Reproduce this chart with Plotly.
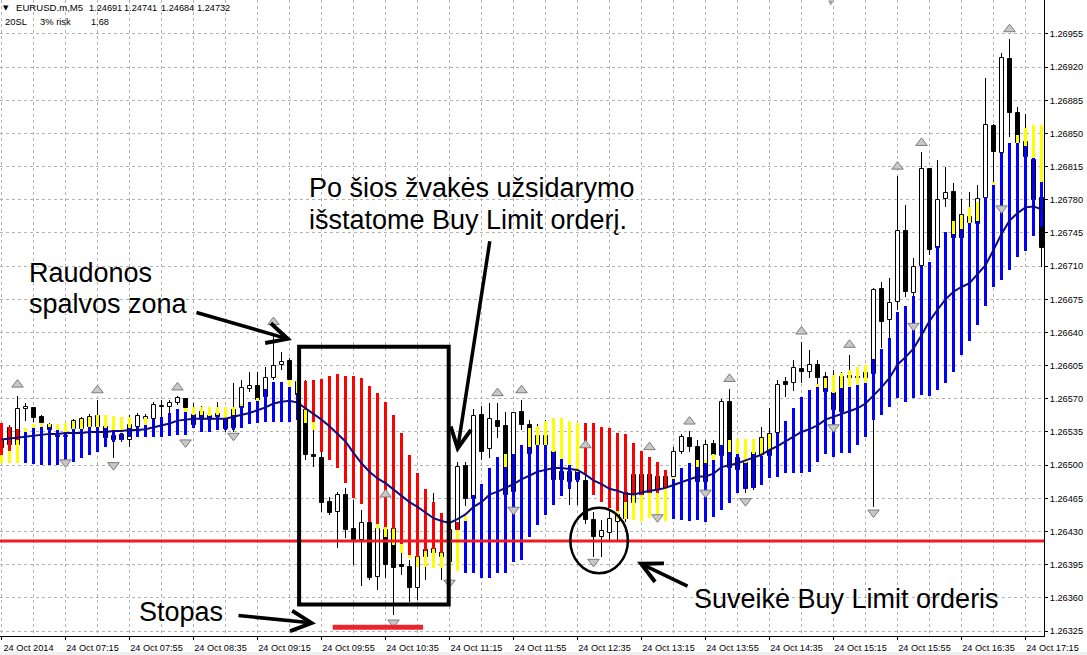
import plotly.graph_objects as go

# ---------------- data (EURUSD M5, 24 Oct 2014) ----------------
X_TICK_LABELS = ["24 Oct 2014", "24 Oct 07:15", "24 Oct 07:55", "24 Oct 08:35", "24 Oct 09:15",
                 "24 Oct 09:55", "24 Oct 10:35", "24 Oct 11:15", "24 Oct 11:55", "24 Oct 12:35",
                 "24 Oct 13:15", "24 Oct 13:55", "24 Oct 14:35", "24 Oct 15:15", "24 Oct 15:55",
                 "24 Oct 16:35", "24 Oct 17:15"]
X_TICK_BARS = [0, 8, 16, 24, 32, 40, 48, 56, 64, 72, 80, 88, 96, 104, 112, 120, 128]

Y_TICKS = [1.26325, 1.26360, 1.26395, 1.26430, 1.26465, 1.26500, 1.26535, 1.26570, 1.26605,
           1.26640, 1.26675, 1.26710, 1.26745, 1.26780, 1.26815, 1.26850, 1.26885, 1.26920, 1.26955]

OPEN = [1.26527, 1.26539, 1.26521, 1.26559, 1.26560, 1.26551, 1.26542, 1.26531, 1.26530, 1.26538,
        1.26538, 1.26540, 1.26540, 1.26540, 1.26531, 1.26532, 1.26527, 1.26540, 1.26549, 1.26549,
        1.26561, 1.26561, 1.26566, 1.26570, 1.26553, 1.26556, 1.26552, 1.26554, 1.26549, 1.26558,
        1.26560, 1.26580, 1.26584, 1.26572, 1.26592, 1.26606, 1.26610, 1.26588, 1.26558, 1.26510,
        1.26508, 1.26461, 1.26451, 1.26469, 1.26433, 1.26421, 1.26439, 1.26382, 1.26432, 1.26433,
        1.26394, 1.26393, 1.26370, 1.26410, 1.26412, 1.26407, 1.26432, 1.26432, 1.26499, 1.26464,
        1.26553, 1.26517, 1.26547, 1.26541, 1.26472, 1.26556, 1.26542, 1.26531, 1.26531, 1.26514,
        1.26493, 1.26493, 1.26493, 1.26483, 1.26442, 1.26424, 1.26428, 1.26440, 1.26471, 1.26490,
        1.26490, 1.26490, 1.26488, 1.26488, 1.26488, 1.26514, 1.26529, 1.26519, 1.26482, 1.26522,
        1.26510, 1.26567, 1.26508, 1.26502, 1.26513, 1.26529, 1.26510, 1.26534, 1.26588, 1.26587,
        1.26601, 1.26598, 1.26606, 1.26593, 1.26576, 1.26593, 1.26594, 1.26593, 1.26597, 1.26596,
        1.26686, 1.26653, 1.26672, 1.26747, 1.26682, 1.26710, 1.26813, 1.26729, 1.26781, 1.26788,
        1.26764, 1.26762, 1.26754, 1.26782, 1.26858, 1.26829, 1.26929, 1.26872, 1.26841, 1.26822,
        1.26782]

HIGH = [1.26535, 1.26542, 1.26573, 1.26566, 1.26561, 1.26553, 1.26544, 1.26534, 1.26535, 1.26549,
        1.26551, 1.26554, 1.26569, 1.26548, 1.26537, 1.26537, 1.26553, 1.26555, 1.26554, 1.26567,
        1.26569, 1.26569, 1.26573, 1.26571, 1.26566, 1.26562, 1.26556, 1.26567, 1.26553, 1.26587,
        1.26590, 1.26598, 1.26598, 1.26604, 1.26639, 1.26619, 1.26613, 1.26592, 1.26590, 1.26537,
        1.26524, 1.26466, 1.26472, 1.26476, 1.26463, 1.26453, 1.26456, 1.26442, 1.26463, 1.26437,
        1.26407, 1.26400, 1.26421, 1.26428, 1.26471, 1.26442, 1.26437, 1.26503, 1.26503, 1.26559,
        1.26562, 1.26566, 1.26566, 1.26556, 1.26556, 1.26569, 1.26548, 1.26543, 1.26548, 1.26521,
        1.26500, 1.26497, 1.26499, 1.26514, 1.26451, 1.26442, 1.26452, 1.26453, 1.26476, 1.26495,
        1.26491, 1.26493, 1.26495, 1.26495, 1.26519, 1.26533, 1.26536, 1.26527, 1.26527, 1.26527,
        1.26570, 1.26580, 1.26516, 1.26511, 1.26518, 1.26540, 1.26560, 1.26590, 1.26593, 1.26611,
        1.26630, 1.26622, 1.26611, 1.26598, 1.26600, 1.26598, 1.26616, 1.26600, 1.26606, 1.26687,
        1.26693, 1.26697, 1.26805, 1.26775, 1.26719, 1.26830, 1.26814, 1.26822, 1.26815, 1.26798,
        1.26781, 1.26788, 1.26796, 1.26909, 1.26860, 1.26935, 1.26950, 1.26878, 1.26871, 1.26827,
        1.26790]

LOW = [1.26514, 1.26516, 1.26518, 1.26547, 1.26546, 1.26541, 1.26533, 1.26527, 1.26525, 1.26534,
       1.26535, 1.26537, 1.26537, 1.26527, 1.26508, 1.26524, 1.26519, 1.26537, 1.26546, 1.26547,
       1.26551, 1.26555, 1.26563, 1.26556, 1.26540, 1.26543, 1.26543, 1.26548, 1.26535, 1.26535,
       1.26556, 1.26577, 1.26567, 1.26569, 1.26590, 1.26600, 1.26579, 1.26571, 1.26505, 1.26498,
       1.26451, 1.26447, 1.26413, 1.26423, 1.26395, 1.26372, 1.26379, 1.26368, 1.26381, 1.26342,
       1.26384, 1.26356, 1.26358, 1.26379, 1.26400, 1.26379, 1.26381, 1.26421, 1.26457, 1.26460,
       1.26505, 1.26508, 1.26529, 1.26463, 1.26465, 1.26537, 1.26505, 1.26516, 1.26514, 1.26479,
       1.26476, 1.26458, 1.26458, 1.26438, 1.26403, 1.26403, 1.26421, 1.26421, 1.26440, 1.26455,
       1.26463, 1.26466, 1.26469, 1.26474, 1.26484, 1.26512, 1.26514, 1.26479, 1.26479, 1.26508,
       1.26508, 1.26493, 1.26490, 1.26471, 1.26474, 1.26505, 1.26505, 1.26531, 1.26572, 1.26578,
       1.26587, 1.26592, 1.26585, 1.26574, 1.26555, 1.26553, 1.26588, 1.26586, 1.26588, 1.26456,
       1.26624, 1.26634, 1.26664, 1.26677, 1.26677, 1.26708, 1.26722, 1.26727, 1.26772, 1.26738,
       1.26738, 1.26752, 1.26752, 1.26780, 1.26780, 1.26822, 1.26846, 1.26838, 1.26822, 1.26775,
       1.26709]

CLOSE = [1.26518, 1.26521, 1.26559, 1.26561, 1.26550, 1.26544, 1.26537, 1.26530, 1.26531, 1.26547,
         1.26549, 1.26551, 1.26552, 1.26529, 1.26527, 1.26527, 1.26542, 1.26552, 1.26551, 1.26563,
         1.26562, 1.26566, 1.26571, 1.26560, 1.26542, 1.26548, 1.26548, 1.26551, 1.26538, 1.26539,
         1.26581, 1.26584, 1.26569, 1.26592, 1.26605, 1.26609, 1.26590, 1.26574, 1.26511, 1.26509,
         1.26460, 1.26450, 1.26469, 1.26432, 1.26421, 1.26439, 1.26381, 1.26433, 1.26395, 1.26391,
         1.26393, 1.26370, 1.26403, 1.26403, 1.26407, 1.26403, 1.26398, 1.26498, 1.26464, 1.26552,
         1.26514, 1.26549, 1.26540, 1.26469, 1.26555, 1.26542, 1.26512, 1.26521, 1.26521, 1.26484,
         1.26484, 1.26482, 1.26484, 1.26442, 1.26424, 1.26431, 1.26443, 1.26447, 1.26443, 1.26460,
         1.26469, 1.26471, 1.26474, 1.26476, 1.26514, 1.26530, 1.26519, 1.26482, 1.26521, 1.26511,
         1.26567, 1.26497, 1.26495, 1.26475, 1.26476, 1.26511, 1.26533, 1.26585, 1.26585, 1.26603,
         1.26598, 1.26606, 1.26592, 1.26577, 1.26558, 1.26556, 1.26592, 1.26592, 1.26592, 1.26685,
         1.26651, 1.26671, 1.26747, 1.26683, 1.26709, 1.26813, 1.26727, 1.26780, 1.26787, 1.26740,
         1.26740, 1.26756, 1.26781, 1.26859, 1.26830, 1.26930, 1.26872, 1.26840, 1.26825, 1.26780,
         1.26729]

# colour-zone indicator: top / split / bottom of each histogram bar
BAND_TOP = [1.26544, 1.26540, 1.26538, 1.26539, 1.26543, 1.26544, 1.26543, 1.26543, 1.26544, 1.26547,
            1.26549, 1.26551, 1.26553, 1.26553, 1.26552, 1.26551, 1.26551, 1.26540, 1.26550, 1.26549,
            1.26551, 1.26555, 1.26559, 1.26560, 1.26561, 1.26561, 1.26561, 1.26561, 1.26561, 1.26561,
            1.26565, 1.26567, 1.26571, 1.26580, 1.26588, 1.26588, 1.26590, 1.26590, 1.26589, 1.26590,
            1.26591, 1.26594, 1.26596, 1.26594, 1.26594, 1.26592, 1.26584, 1.26576, 1.26567, 1.26553,
            1.26534, 1.26511, 1.26492, 1.26475, 1.26461, 1.26450, 1.26440, 1.26440, 1.26446, 1.26469,
            1.26480, 1.26497, 1.26509, 1.26512, 1.26512, 1.26521, 1.26539, 1.26541, 1.26547, 1.26550,
            1.26550, 1.26547, 1.26544, 1.26544, 1.26544, 1.26540, 1.26539, 1.26534, 1.26533, 1.26523,
            1.26515, 1.26509, 1.26503, 1.26495, 1.26488, 1.26497, 1.26502, 1.26505, 1.26505, 1.26512,
            1.26521, 1.26527, 1.26528, 1.26528, 1.26528, 1.26529, 1.26533, 1.26534, 1.26547, 1.26560,
            1.26572, 1.26579, 1.26586, 1.26592, 1.26595, 1.26597, 1.26600, 1.26604, 1.26606, 1.26612,
            1.26623, 1.26634, 1.26662, 1.26668, 1.26678, 1.26710, 1.26714, 1.26731, 1.26746, 1.26758,
            1.26764, 1.26772, 1.26778, 1.26783, 1.26799, 1.26829, 1.26840, 1.26848, 1.26856, 1.26859,
            1.26859]

BAND_SPLIT = [1.26511, 1.26515, 1.26527, 1.26535, 1.26539, 1.26540, 1.26540, 1.26537, 1.26535, 1.26538,
              1.26538, 1.26540, 1.26540, 1.26539, 1.26537, 1.26534, 1.26539, 1.26540, 1.26542, 1.26549,
              1.26551, 1.26555, 1.26559, 1.26556, 1.26553, 1.26553, 1.26552, 1.26553, 1.26549, 1.26553,
              1.26562, 1.26567, 1.26568, 1.26580, 1.26588, 1.26588, 1.26582, 1.26576, 1.26558, 1.26546,
              1.26514, 1.26505, 1.26497, 1.26481, 1.26465, 1.26459, 1.26440, 1.26438, 1.26435, 1.26433,
              1.26417, 1.26405, 1.26403, 1.26409, 1.26412, 1.26407, 1.26432, 1.26432, 1.26441, 1.26469,
              1.26480, 1.26497, 1.26509, 1.26498, 1.26512, 1.26521, 1.26519, 1.26521, 1.26521, 1.26514,
              1.26506, 1.26500, 1.26493, 1.26490, 1.26469, 1.26461, 1.26455, 1.26452, 1.26461, 1.26469,
              1.26469, 1.26471, 1.26471, 1.26476, 1.26485, 1.26497, 1.26502, 1.26498, 1.26503, 1.26505,
              1.26521, 1.26514, 1.26512, 1.26502, 1.26512, 1.26510, 1.26516, 1.26534, 1.26547, 1.26560,
              1.26572, 1.26579, 1.26582, 1.26581, 1.26576, 1.26581, 1.26582, 1.26585, 1.26587, 1.26612,
              1.26623, 1.26634, 1.26662, 1.26668, 1.26678, 1.26710, 1.26714, 1.26731, 1.26746, 1.26744,
              1.26749, 1.26756, 1.26758, 1.26783, 1.26796, 1.26829, 1.26840, 1.26840, 1.26837, 1.26824,
              1.26799]

BAND_BOTTOM = [1.26502, 1.26502, 1.26502, 1.26502, 1.26501, 1.26500, 1.26500, 1.26500, 1.26500, 1.26503,
               1.26508, 1.26511, 1.26514, 1.26519, 1.26524, 1.26527, 1.26530, 1.26530, 1.26530, 1.26530,
               1.26530, 1.26531, 1.26532, 1.26532, 1.26539, 1.26535, 1.26535, 1.26537, 1.26537, 1.26537,
               1.26539, 1.26543, 1.26544, 1.26546, 1.26546, 1.26546, 1.26546, 1.26548, 1.26544, 1.26537,
               1.26514, 1.26505, 1.26497, 1.26481, 1.26465, 1.26459, 1.26440, 1.26433, 1.26424, 1.26416,
               1.26407, 1.26402, 1.26393, 1.26393, 1.26391, 1.26391, 1.26389, 1.26388, 1.26386, 1.26386,
               1.26381, 1.26381, 1.26386, 1.26386, 1.26398, 1.26400, 1.26424, 1.26437, 1.26447, 1.26458,
               1.26467, 1.26475, 1.26482, 1.26490, 1.26469, 1.26461, 1.26455, 1.26443, 1.26443, 1.26442,
               1.26441, 1.26444, 1.26442, 1.26441, 1.26443, 1.26442, 1.26441, 1.26442, 1.26440, 1.26445,
               1.26453, 1.26460, 1.26471, 1.26475, 1.26476, 1.26479, 1.26486, 1.26488, 1.26492, 1.26492,
               1.26492, 1.26493, 1.26503, 1.26512, 1.26509, 1.26513, 1.26513, 1.26521, 1.26530, 1.26548,
               1.26553, 1.26561, 1.26571, 1.26567, 1.26571, 1.26574, 1.26573, 1.26579, 1.26587, 1.26598,
               1.26616, 1.26631, 1.26648, 1.26668, 1.26688, 1.26695, 1.26706, 1.26720, 1.26726, 1.26742,
               1.26751]

# zone state per bar: upper part / lower part (R = red, Y = yellow, B = blue)
BAND_STATE = ["RY", "RY", "RY", "YB", "YB", "YB", "YB", "YB", "YB", "YB",
              "YB", "YB", "YB", "YB", "YB", "YB", "YB", "BB", "YB", "BB",
              "BB", "BB", "BB", "YB", "YB", "YB", "YB", "YB", "YB", "YB",
              "YB", "BB", "YB", "BB", "BB", "BB", "YB", "YB", "RY", "RY",
              "RR", "RR", "RR", "RR", "RR", "RR", "RR", "RY", "RY", "RY",
              "RY", "RY", "RY", "RY", "RY", "RY", "RY", "RY", "YB", "BB",
              "BB", "BB", "BB", "YB", "BB", "BB", "YB", "YB", "YB", "YB",
              "YB", "YB", "YB", "RR", "RR", "RR", "RR", "RY", "RY", "RY",
              "RY", "RY", "RY", "RY", "YB", "BB", "BB", "YB", "YB", "YB",
              "BB", "YB", "YB", "YB", "YB", "YB", "YB", "BB", "BB", "BB",
              "BB", "BB", "YB", "YB", "YB", "YB", "YB", "YB", "YB", "BB",
              "BB", "BB", "BB", "BB", "BB", "BB", "BB", "BB", "BB", "YB",
              "YB", "YB", "YB", "BB", "YB", "BB", "BB", "YB", "YB", "YB",
              "YB"]

MA = [1.26527, 1.26528, 1.26529, 1.26530, 1.26531, 1.26532, 1.26533, 1.26533, 1.26534, 1.26534,
      1.26534, 1.26535, 1.26535, 1.26535, 1.26536, 1.26536, 1.26537, 1.26537, 1.26538, 1.26540,
      1.26542, 1.26544, 1.26547, 1.26548, 1.26549, 1.26549, 1.26549, 1.26549, 1.26549, 1.26551,
      1.26553, 1.26555, 1.26558, 1.26561, 1.26565, 1.26567, 1.26568, 1.26566, 1.26560, 1.26554,
      1.26548, 1.26541, 1.26533, 1.26525, 1.26513, 1.26502, 1.26493, 1.26486, 1.26481, 1.26474,
      1.26467, 1.26461, 1.26456, 1.26450, 1.26444, 1.26441, 1.26439, 1.26443, 1.26448, 1.26456,
      1.26461, 1.26469, 1.26472, 1.26476, 1.26480, 1.26485, 1.26489, 1.26493, 1.26495, 1.26497,
      1.26497, 1.26496, 1.26495, 1.26490, 1.26484, 1.26480, 1.26475, 1.26473, 1.26470, 1.26469,
      1.26471, 1.26473, 1.26474, 1.26476, 1.26479, 1.26482, 1.26485, 1.26488, 1.26488, 1.26491,
      1.26498, 1.26500, 1.26502, 1.26505, 1.26508, 1.26511, 1.26516, 1.26520, 1.26525, 1.26530,
      1.26535, 1.26538, 1.26542, 1.26548, 1.26551, 1.26554, 1.26557, 1.26560, 1.26565, 1.26573,
      1.26582, 1.26592, 1.26606, 1.26614, 1.26623, 1.26637, 1.26652, 1.26664, 1.26675, 1.26683,
      1.26688, 1.26692, 1.26701, 1.26711, 1.26727, 1.26744, 1.26758, 1.26766, 1.26772, 1.26773,
      1.26770]

FRACTAL_UP_BAR = [2, 12, 22, 34, 48, 62, 65, 73, 81, 86, 91, 100, 106, 112, 115, 126]
FRACTAL_UP_PRICE = [1.26585, 1.26579, 1.26582, 1.26651, 1.26469, 1.26576, 1.26579, 1.26521,
                    1.26519, 1.26546, 1.26591, 1.26641, 1.26627, 1.26815, 1.26840, 1.26960]
FRACTAL_DN_BAR = [8, 14, 23, 29, 49, 56, 64, 74, 82, 88, 93, 104, 109, 114, 125]
FRACTAL_DN_PRICE = [1.26503, 1.26500, 1.26524, 1.26531, 1.26334, 1.26376, 1.26453, 1.26398,
                    1.26445, 1.26471, 1.26462, 1.26540, 1.26450, 1.26647, 1.26771]

BUY_LIMIT_LEVEL = 1.26420
STOP_LEVEL = 1.26329

# ---------------- styling ----------------
COLORS = {"R": "#ff0000", "Y": "#ffff00", "B": "#0000ff"}
GRID = "#b4b4b4"
FONT = "Liberation Sans, Arial, sans-serif"
W, H = 1087, 655
PLOT_W, PLOT_H = 1044, 636

n = len(OPEN)
bars = list(range(n))

fig = go.Figure()

# candle wicks
fig.add_trace(go.Bar(x=bars, base=LOW, y=[h - l for h, l in zip(HIGH, LOW)], width=0.125,
                     marker=dict(color="black", line=dict(width=0)), hoverinfo="skip"))
# candle bodies
body_base = [min(o, c) for o, c in zip(OPEN, CLOSE)]
body_h = [max(abs(c - o), 0.000012) for o, c in zip(OPEN, CLOSE)]
body_col = ["white" if c >= o else "black" for o, c in zip(OPEN, CLOSE)]
fig.add_trace(go.Bar(x=bars, base=body_base, y=body_h, width=0.5,
                     marker=dict(color=body_col, line=dict(color="black", width=1)), hoverinfo="skip"))
# indicator bands (drawn over candles like in MT4)
fig.add_trace(go.Bar(x=bars, base=BAND_BOTTOM, y=[s - b for s, b in zip(BAND_SPLIT, BAND_BOTTOM)],
                     width=0.375, marker=dict(color=[COLORS[s[1]] for s in BAND_STATE], line=dict(width=0)),
                     hoverinfo="skip"))
fig.add_trace(go.Bar(x=bars, base=BAND_SPLIT, y=[t - s for t, s in zip(BAND_TOP, BAND_SPLIT)],
                     width=0.375, marker=dict(color=[COLORS[s[0]] for s in BAND_STATE], line=dict(width=0)),
                     hoverinfo="skip"))
# moving average
fig.add_trace(go.Scatter(x=bars, y=MA, mode="lines", line=dict(color="#0c0c80", width=2), hoverinfo="skip"))
# fractals
fig.add_trace(go.Scatter(x=FRACTAL_UP_BAR, y=FRACTAL_UP_PRICE, mode="markers",
                         marker=dict(symbol="triangle-up", size=10, color="#c8c8c8",
                                     line=dict(color="#7c7c7c", width=1)), hoverinfo="skip"))
fig.add_trace(go.Scatter(x=FRACTAL_DN_BAR, y=FRACTAL_DN_PRICE, mode="markers",
                         marker=dict(symbol="triangle-down", size=10, color="#c8c8c8",
                                     line=dict(color="#7c7c7c", width=1)), hoverinfo="skip"))

shapes = [
    dict(type="line", xref="paper", yref="y", x0=0, x1=1, y0=BUY_LIMIT_LEVEL, y1=BUY_LIMIT_LEVEL,
         line=dict(color="#ed1c24", width=3), layer="above"),
    dict(type="line", xref="x", yref="y", x0=41.4, x1=52.7, y0=STOP_LEVEL, y1=STOP_LEVEL,
         line=dict(color="#e8262e", width=5), layer="above"),
    dict(type="rect", xref="x", yref="y", x0=37.2, x1=55.9, y0=1.26353, y1=1.26625,
         line=dict(color="black", width=4), layer="above"),
    dict(type="circle", xref="x", yref="y", x0=71.1, x1=78.3, y0=1.26386, y1=1.26455,
         line=dict(color="black", width=2.5), layer="above"),
    dict(type="rect", xref="paper", yref="paper", x0=0, x1=W / PLOT_W, y0=-(H - PLOT_H) / PLOT_H,
         y1=-(652 - PLOT_H) / PLOT_H, fillcolor="#f0f0f0", line=dict(width=0), layer="below"),
]


def px(xp):
    return xp / PLOT_W


def py(yp):
    return 1 - yp / PLOT_H


annotations = []


def text(t, xp, yp, size=27, family=FONT, color="black"):
    annotations.append(dict(text=t, xref="paper", yref="paper", x=px(xp), y=py(yp),
                            xanchor="left", yanchor="middle", showarrow=False,
                            borderpad=0, borderwidth=0,
                            font=dict(family=family, size=size, color=color)))


def arrow(xb, yp, ax, ay):
    annotations.append(dict(text="", x=xb, y=yp, xref="x", yref="y", ax=ax, ay=ay,
                            showarrow=True, arrowhead=5, arrowsize=1.15, arrowwidth=3.5,
                            arrowcolor="black", standoff=0))


text("Raudonos", 29, 273)
text("spalvos zona", 29, 304)
text("Po šios žvakės užsidarymo", 309, 188)
text("išstatome Buy Limit orderį.", 309, 220)
text("Stopas", 139, 612)
text("Suveikė Buy Limit orderis", 694, 599)

arrow(36.31, 1.26632, -97, -28)
arrow(56.94, 1.26513, 33, -213)
arrow(39.31, 1.26333, -79, -8)
arrow(79.44, 1.26398, 52, 25)

# header
text("▼", 3, 8, size=7, family="DejaVu Sans")
text("EURUSD.m,M5", 16, 8, size=9.6)
text("1.24691", 89, 8, size=9.2)
text("1.24741", 124, 8, size=9.2)
text("1.24684", 161, 8, size=9.2)
text("1.24732", 197, 8, size=9.2)
text("20SL", 5, 22, size=9.4)
text("3% risk", 40, 22, size=9.4)
text("1.68", 91, 22, size=9.2)
text("▼", 828, 3, size=7, family="DejaVu Sans", color="#a0a0a0")

tickfont = dict(family=FONT, size=9.2, color="black")

fig.update_layout(
    width=W, height=H, margin=dict(l=0, r=W - PLOT_W, t=0, b=H - PLOT_H),
    paper_bgcolor="white", plot_bgcolor="white",
    barmode="overlay", bargap=0, bargroupgap=0, showlegend=False,
    shapes=shapes, annotations=annotations,
    xaxis=dict(range=[-0.1875, 130.3125], tickmode="array", tickvals=X_TICK_BARS,
               ticktext=X_TICK_LABELS, ticks="outside", ticklen=3, tickcolor="black",
               ticklabelshift=27, tickfont=tickfont,
               showgrid=True, gridcolor=GRID, griddash="3px,3px", gridwidth=1,
               minor=dict(tickmode="array", tickvals=[b + 4 for b in X_TICK_BARS][:-1],
                          showgrid=True, gridcolor=GRID, griddash="3px,3px", gridwidth=1, ticks=""),
               showline=True, linecolor="black", linewidth=1, zeroline=False, fixedrange=True),
    yaxis=dict(range=[1.2631972, 1.2699083], side="right", tickmode="array", tickvals=Y_TICKS,
               ticktext=[f"{v:.5f}" for v in Y_TICKS], ticks="outside", ticklen=3, tickcolor="black",
               tickfont=tickfont, showgrid=True, gridcolor=GRID, griddash="3px,3px", gridwidth=1,
               showline=True, mirror=True, linecolor="black", linewidth=1, zeroline=False,
               fixedrange=True),
)

fig.write_html("out.html", config={"displayModeBar": False},
               post_script="document.body.style.margin='0px';document.body.style.overflow='hidden';")
